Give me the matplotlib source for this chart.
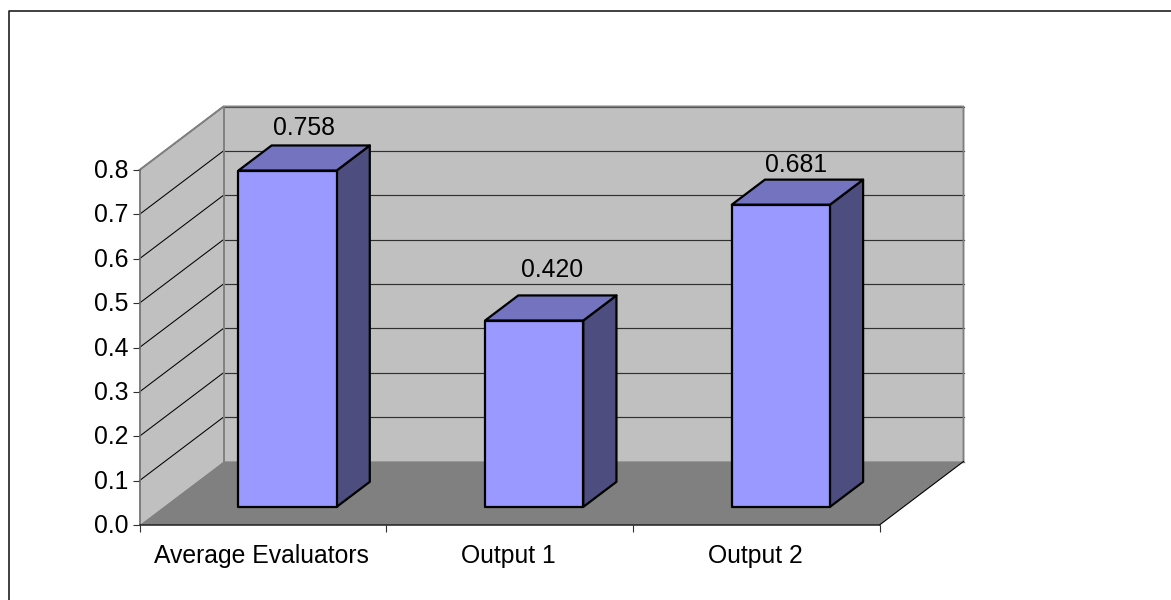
import matplotlib
matplotlib.use("Agg")
import matplotlib.pyplot as plt
from matplotlib.patches import Polygon
from matplotlib.lines import Line2D
from matplotlib.transforms import ScaledTranslation

categories = ["Average Evaluators", "Output 1", "Output 2"]
values = [0.758, 0.420, 0.681]
value_labels = ["0.758", "0.420", "0.681"]
y_ticks = [0.0, 0.1, 0.2, 0.3, 0.4, 0.5, 0.6, 0.7, 0.8]
y_top = 0.8
wall_top = 0.8

W, H = 1171, 600
LEFT, RIGHT, BASE, TOP = 139.5, 879.5, 525.0, 170.0
DEPTH_PX = (84.0, 63.5)
BAR_W = 0.398
BAR_SHIFT = 0.003
BAR_D0, BAR_D1 = 0.285, 0.68
LABEL_OFFSETS = [(1, 18), (2, 26), (-1, 15)]

plt.rcParams["font.family"] = ["Liberation Sans", "DejaVu Sans"]
FS = 17.8

fig = plt.figure(figsize=(W / 100, H / 100), dpi=100)
fig.patch.set_facecolor("white")
fig.add_artist(Line2D([8.5 / W, 8.5 / W, 1], [0, 1 - 11.0 / H, 1 - 11.0 / H],
                      transform=fig.transFigure, color="#202020", lw=1.2))

ax = fig.add_axes([LEFT / W, 1 - BASE / H, (RIGHT - LEFT) / W, (BASE - TOP) / H])
ax.set_xlim(0, len(categories))
ax.set_ylim(0, y_top)
ax.patch.set_visible(False)

ddx = DEPTH_PX[0] / ((RIGHT - LEFT) / len(categories))
ddy = DEPTH_PX[1] / ((BASE - TOP) / y_top)


def P(x, y, d=0.0):
    return (x + d * ddx, y + d * ddy)


def poly(pts, fc, ec="none", lw=0.0, z=1):
    ax.add_patch(Polygon(pts, closed=True, fc=fc, ec=ec, lw=lw, zorder=z,
                         clip_on=False, joinstyle="round"))


n = len(categories)
# walls and floor
poly([P(0, 0), P(0, 0, 1), P(0, wall_top, 1), P(0, wall_top)], "#C0C0C0", z=1)
poly([P(0, 0, 1), P(n, 0, 1), P(n, wall_top, 1), P(0, wall_top, 1)], "#C0C0C0", z=1)
poly([P(0, 0), P(n, 0), P(n, 0, 1), P(0, 0, 1)], "#808080", z=1.1)

# gridlines
for t in y_ticks[1:]:
    ax.plot(*zip(P(0, t), P(0, t, 1)), color="black", lw=0.75, zorder=1.2, clip_on=False)
    ax.plot(*zip(P(0, t, 1), P(n, t, 1)), color="#303030", lw=0.85, zorder=1.2, clip_on=False)

# wall borders
ax.plot(*zip(P(0, wall_top), P(0, wall_top, 1), P(n, wall_top, 1), P(n, 0, 1)),
        color="#808080", lw=1.4, zorder=1.3, clip_on=False)
ax.plot(*zip(P(0, 0, 1), P(0, wall_top, 1)), color="#808080", lw=1.4, zorder=1.3, clip_on=False)
ax.plot(*zip(P(0, 0, 1), P(n, 0, 1)), color="#808080", lw=1.0, zorder=1.3, clip_on=False)
ax.plot(*zip(P(n, 0), P(n, 0, 1)), color="black", lw=0.8, zorder=1.3, clip_on=False)

# bars
for i, (v, lab) in enumerate(zip(values, value_labels)):
    cx = i + 0.5 + BAR_SHIFT
    x0, x1 = cx - BAR_W / 2, cx + BAR_W / 2
    e = dict(ec="black", lw=1.6, z=3)
    poly([P(x1, 0, BAR_D0), P(x1, 0, BAR_D1), P(x1, v, BAR_D1), P(x1, v, BAR_D0)], "#4D4D80", **e)
    poly([P(x0, v, BAR_D0), P(x1, v, BAR_D0), P(x1, v, BAR_D1), P(x0, v, BAR_D1)], "#7373BF", **e)
    poly([P(x0, 0, BAR_D0), P(x1, 0, BAR_D0), P(x1, v, BAR_D0), P(x0, v, BAR_D0)], "#9999FF", **e)
    tx, ty = P(i + 0.5, v, (BAR_D0 + BAR_D1) / 2)
    ax.annotate(lab, (tx, ty), xytext=LABEL_OFFSETS[i], textcoords="offset pixels", ha="center",
                va="bottom", fontsize=FS, color="black", zorder=4, annotation_clip=False)

# axes
for s in ("top", "right"):
    ax.spines[s].set_visible(False)
ax.spines["left"].set_color("#707070")
ax.spines["left"].set_linewidth(1.2)
ax.spines["bottom"].set_color("#202020")
ax.spines["bottom"].set_linewidth(1.1)
ax.spines["left"].set_zorder(2)
ax.spines["bottom"].set_zorder(2)
ax.set_yticks(y_ticks)
ax.set_yticklabels([f"{t:.1f}" for t in y_ticks], fontsize=FS)
ax.set_xticks(range(n + 1))
ax.set_xticklabels([""] * (n + 1))
ax.set_xticks([i + 0.5 for i in range(n)], minor=True)
ax.set_xticklabels(categories, minor=True, fontsize=FS)
ax.tick_params(axis="x", which="major", length=5, width=0.8, color="#303030", direction="out")
ax.tick_params(axis="x", which="minor", length=0, pad=14)
ax.tick_params(axis="y", length=5, width=0.8, color="#303030", pad=3)
up = ScaledTranslation(0, 1.5 / 100, fig.dpi_scale_trans)
for lbl in ax.get_yticklabels():
    lbl.set_transform(lbl.get_transform() + up)
left_shift = ScaledTranslation(-1 / 100, 0, fig.dpi_scale_trans)
for lbl in ax.get_xticklabels(minor=True):
    lbl.set_transform(lbl.get_transform() + left_shift)

fig.savefig("out.png", dpi=100)
